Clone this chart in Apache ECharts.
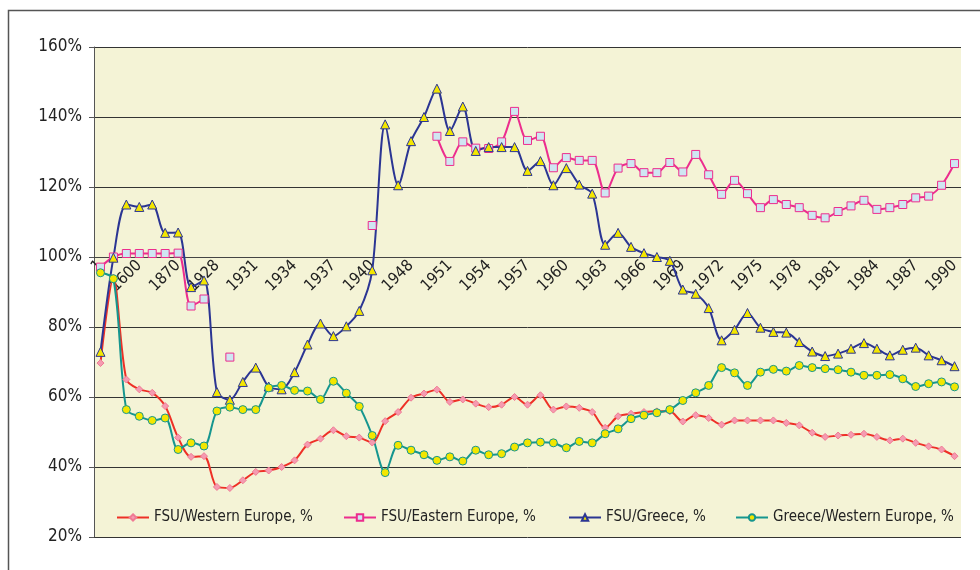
<!DOCTYPE html>
<html>
<head>
<meta charset="utf-8">
<title>FSU relative levels</title>
<script src="https://cdn.jsdelivr.net/npm/echarts@6/dist/echarts.min.js"></script>
<style>
  html, body { margin: 0; padding: 0; background: #fff; }
  #chart { width: 980px; height: 570px; }
</style>
</head>
<body>
<div id="chart"></div>
<script>
// categories (early benchmark years, then yearly)
var years = ['1', '1000', '1500', '1600', '1700', '1820', '1870', '1900', '1913',
  '1928', '1929', '1930', '1931', '1932', '1933', '1934', '1935', '1936', '1937', '1938', '1939', '1940',
  '1946', '1947', '1948', '1949', '1950', '1951', '1952', '1953', '1954', '1955', '1956', '1957', '1958',
  '1959', '1960', '1961', '1962', '1963', '1964', '1965', '1966', '1967', '1968', '1969', '1970', '1971',
  '1972', '1973', '1974', '1975', '1976', '1977', '1978', '1979', '1980', '1981', '1982', '1983', '1984',
  '1985', '1986', '1987', '1988', '1989', '1990']

var fsuWesternEurope = [69.7, 94.1, 65.0, 62.2, 61.2, 57.4, 48.4, 42.9, 43.1, 34.3, 34.0, 36.2, 38.6, 39.0, 40.0, 41.9, 46.4,
  48.1, 50.5, 48.8, 48.4, 47.0, 53.1, 55.7, 59.8, 61.0, 62.1, 58.6, 59.3, 58.1, 57.1, 57.8, 60.0, 57.8,
  60.5, 56.4, 57.3, 56.9, 55.7, 51.2, 54.5, 55.2, 55.7, 55.9, 55.9, 53.0, 54.8, 54.0, 52.1, 53.3, 53.3,
  53.3, 53.3, 52.6, 51.9, 49.8, 48.6, 49.0, 49.2, 49.5, 48.6, 47.6, 48.1, 46.9, 45.9, 45.0, 43.1]

var fsuEasternEurope = [97.1, 100.0, 101.0, 101.0, 101.0, 101.0, 101.1, 86.0, 88.0, null, 71.4,
  null, null, null, null, null, null, null, null, null, null, 109.0, null, null, null, null,
  134.5, 127.3, 132.9, 131.1, 131.0, 132.9, 141.6, 133.3,
  134.5, 125.5, 128.4, 127.6, 127.6, 118.3, 125.4, 126.7, 124.1, 124.1, 127.0, 124.3, 129.3, 123.5, 117.9, 121.9, 118.1,
  114.1, 116.4, 115.0, 114.1, 111.9, 111.2, 113.0, 114.6, 116.2, 113.6, 114.1, 115.0, 116.9, 117.4, 120.5, 126.7]

var fsuGreece = [72.9, 99.8, 115.0, 114.3, 115.0, 106.9, 107.0, 91.4, 93.3, 61.4, 59.2, 64.3, 68.4, 63.0, 62.2, 67.1, 75.0,
  81.0, 77.4, 80.2, 84.6, 96.2, 137.9, 120.5, 133.1, 140.0, 148.1, 136.0, 143.0, 130.3, 131.4, 131.4, 131.4, 124.6,
  127.4, 120.5, 125.4, 120.7, 118.1, 103.5, 106.9, 102.9, 101.1, 100.0, 98.9, 90.7, 89.5, 85.4, 76.2, 79.2, 84.0,
  79.8, 78.6, 78.4, 75.7, 73.0, 71.7, 72.4, 73.8, 75.4, 73.8, 71.9, 73.5, 74.1, 71.9, 70.5, 68.8]

var greeceWesternEurope = [95.5, 93.8, 56.4, 54.5, 53.3, 54.0, 45.0, 46.9, 46.0, 56.0, 57.1, 56.4, 56.4, 62.6, 63.3, 61.9, 61.7,
  59.3, 64.5, 61.1, 57.3, 49.0, 38.4, 46.2, 44.8, 43.5, 41.9, 42.9, 41.7, 44.8, 43.5, 43.8, 45.7, 46.9,
  47.1, 46.9, 45.5, 47.3, 46.9, 49.5, 50.9, 53.8, 54.8, 55.5, 56.4, 59.0, 61.2, 63.3, 68.4, 66.9, 63.3,
  67.1, 67.9, 67.4, 69.0, 68.4, 68.1, 67.8, 67.1, 66.2, 66.2, 66.4, 65.2, 63.0, 63.8, 64.3, 62.9]

var seriesNames = ['FSU/Western Europe, %', 'FSU/Eastern Europe, %', 'FSU/Greece, %', 'Greece/Western Europe, %']

var font = "'Liberation Sans Narrow', 'DejaVu Sans Condensed', sans-serif"

// one line series with Excel-like markers
function makeSeries (name, data, lineColor, symbol, size, fill, border) {
  return {
    name: name,
    type: 'line',
    data: data,
    smooth: 0.3,
    connectNulls: false,
    showAllSymbol: true,
    symbol: symbol,
    symbolSize: size,
    lineStyle: { color: lineColor, width: 2 },
    itemStyle: { color: fill, borderColor: border, borderWidth: 1 },
    emphasis: { disabled: true }
  }
}

// one legend per entry so each sits where the original puts it
function makeLegend (name, left) {
  return {
    left: left,
    top: 505,
    itemWidth: 32,
    itemHeight: 8,
    itemGap: 0,
    textStyle: { fontFamily: font, fontSize: 15, color: '#222' },
    data: [name]
  }
}

var myChart = echarts.init(document.getElementById('chart'))

myChart.setOption({
  animation: false,
  graphic: [{
    type: 'rect',
    silent: true,
    shape: { x: 8.5, y: 10.5, width: 1000, height: 600 },
    style: { fill: 'transparent', stroke: '#555', lineWidth: 1.5 }
  }],
  grid: {
    left: 94,
    right: 19,
    top: 47,
    bottom: 33,
    show: true,
    backgroundColor: '#f4f3d6',
    borderWidth: 0
  },
  legend: [
    makeLegend(seriesNames[0], 111),
    makeLegend(seriesNames[1], 338),
    makeLegend(seriesNames[2], 563),
    makeLegend(seriesNames[3], 730)
  ],
  xAxis: {
    type: 'category',
    data: years,
    boundaryGap: true,
    offset: -280,
    axisLine: { lineStyle: { color: '#444', width: 1 } },
    axisTick: { interval: 0, length: 5, lineStyle: { color: '#444' } },
    axisLabel: {
      interval: 2,
      rotate: 45,
      margin: 6,
      fontFamily: font,
      fontSize: 16,
      color: '#222'
    },
    splitLine: { show: false }
  },
  yAxis: {
    type: 'value',
    min: 20,
    max: 160,
    interval: 20,
    axisLine: { show: true, lineStyle: { color: '#555', width: 1 } },
    axisTick: { show: true, length: 5, lineStyle: { color: '#555' } },
    axisLabel: {
      formatter: '{value}%',
      margin: 12,
      fontFamily: font,
      fontSize: 17,
      color: '#222'
    },
    splitLine: { lineStyle: { color: '#333', width: 1 } }
  },
  series: [
    makeSeries(seriesNames[0], fsuWesternEurope, '#ee3026', 'diamond', 7, '#f59bb0', '#f07a95'),
    makeSeries(seriesNames[1], fsuEasternEurope, '#ec2d8e', 'rect', 8, '#cfe6f2', '#ec2d8e'),
    makeSeries(seriesNames[2], fsuGreece, '#2b3593', 'triangle', 9, '#f3e600', '#2b3593'),
    makeSeries(seriesNames[3], greeceWesternEurope, '#15968f', 'circle', 8, '#f3e600', '#15968f')
  ]
})
</script>
</body>
</html>
